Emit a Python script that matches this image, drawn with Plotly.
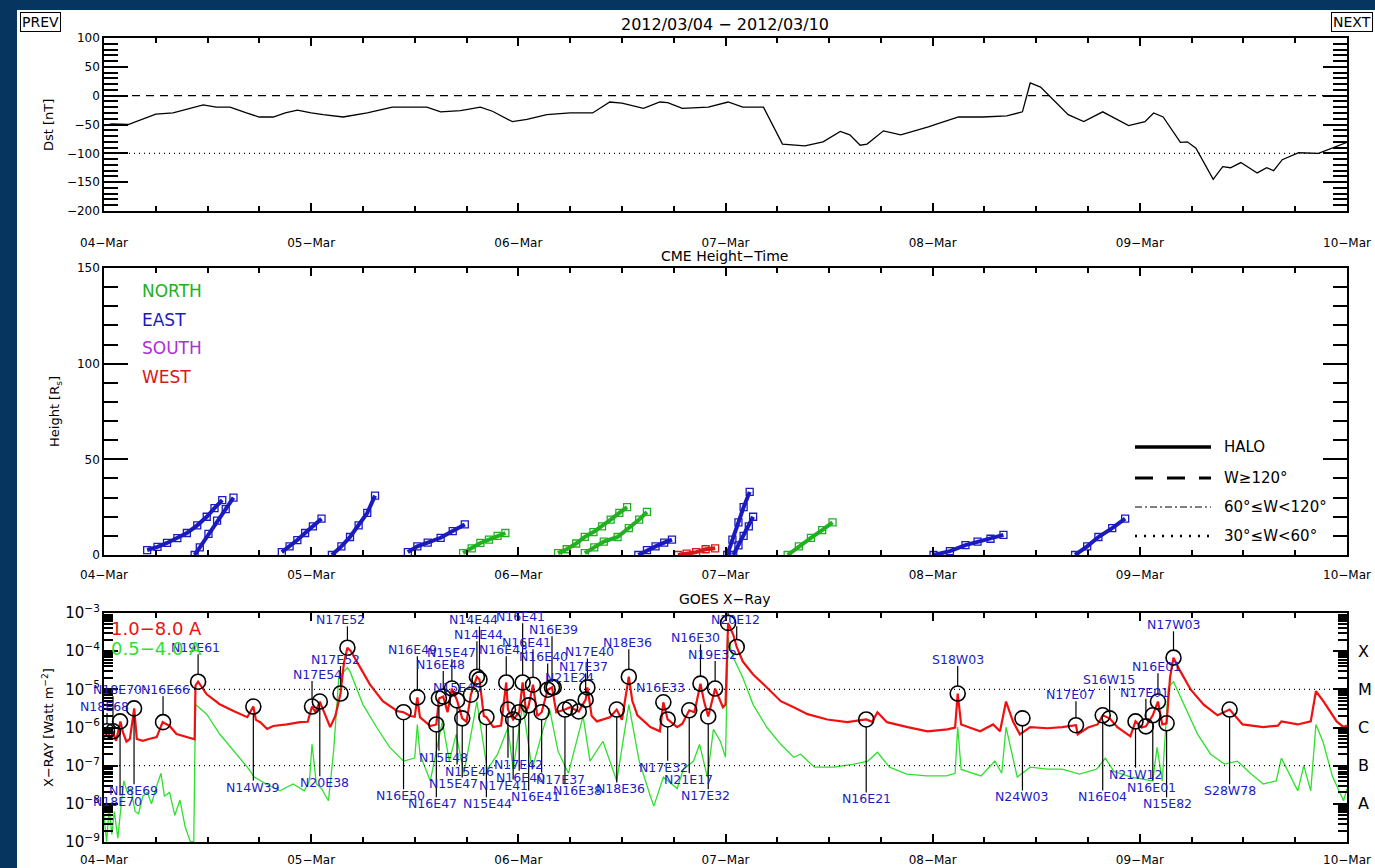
import numpy as np
import pandas as pd
import plotly.graph_objects as go

W, H = 1375, 868
T0 = pd.Timestamp("2012-03-04 00:00")

# ---------------- Dst data (hours from 04-Mar 00UT, nT) ----------------
dst_hours = [0, 0.9, 2.8, 6, 8, 11.5, 13, 14.6, 16.5, 18, 19.6, 21, 22.4, 24, 25.4, 27.7,
             30.5, 33.4, 37.4, 39, 41.3, 43.6, 45, 47.3, 49, 51.3, 54, 56.6, 58.6, 60,
             62.5, 64.4, 65.3, 67, 70, 72.3, 74, 76.4, 78.6, 81.2, 83.3, 85.3, 86.4, 87.6,
             88.4, 90.3, 92.3, 94.0, 95.5, 96.7, 99, 101.8, 104.6, 106.4, 107.3, 108.5,
             111.7, 113.5, 115.7, 118.7, 120.6, 121.6, 122.7, 124.7, 125.5, 126.5, 128.5,
             129.6, 130.5, 131.7, 133.6, 134.7, 135.5, 136.5, 138.4, 140.7, 144]
dst_values = [-52, -49, -50, -32, -30, -16, -20, -20, -30, -37, -37, -30, -25, -30, -33, -37,
              -30, -20, -20, -28, -26, -20, -27, -45, -41, -33, -30, -30, -11, -13,
              -22, -11, -12, -22, -20, -11, -20, -20, -84, -87, -80, -62, -68, -86,
              -84, -61, -68, -61, -54, -48, -37, -37, -35, -28, 22, 15,
              -33, -45, -28, -52, -45, -30, -37, -81, -80, -91, -145,
              -123, -125, -116, -134, -125, -130, -111, -99, -100, -81]

# ---------------- CME height-time tracks ----------------
cme_region = ["EAST", "EAST", "EAST", "EAST", "EAST", "NORTH", "NORTH", "NORTH", "EAST",
              "WEST", "EAST", "EAST", "NORTH", "EAST", "EAST"]
cme_hours = [[5.0, 6.2, 7.3, 8.5, 9.6, 10.8, 11.9, 12.8, 13.7], [10.5, 11.1, 12.1, 13.1, 14.1, 15.0],
             [20.6, 21.5, 22.4, 23.3, 24.2, 25.2],
             [26.4, 27.5, 28.5, 29.5, 30.5, 31.4], [35.2, 36.3, 37.5, 39.0, 40.4, 41.8],
             [41.6, 42.6, 43.6, 44.6, 45.6, 46.5],
             [52.6, 53.6, 54.7, 55.7, 56.7, 57.7, 58.7, 59.7, 60.6],
             [55.7, 56.8, 57.9, 59.5, 60.8, 62.0, 62.9], [61.9, 62.9, 63.9, 64.9, 65.8],
             [66.5, 67.5, 68.6, 69.7, 70.8],
             [72.2, 72.8, 73.5, 74.1, 74.8], [72.9, 73.5, 74.1, 74.7, 75.2],
             [79.2, 80.5, 81.9, 83.2, 84.4], [96.1, 98.0, 99.8, 101.2, 102.7, 104.2],
             [112.5, 113.9, 115.2, 116.8, 118.3]]
cme_heights = [[2.6, 4.2, 6.3, 8.8, 11.5, 15.5, 20, 24.5, 28.7], [0, 4, 11, 18, 24, 30],
               [1.5, 4.5, 7.8, 11.5, 15, 19],
               [0, 4.5, 9.4, 15.5, 22, 31], [1.5, 4.5, 6.5, 9, 12.5, 16],
               [1, 3.5, 6.3, 8, 10, 11.5],
               [1, 3, 6, 9.5, 12, 15, 18.5, 22, 25], [1, 4, 7, 9.4, 14, 18.5, 22.5],
               [0, 2.5, 4.5, 6.5, 8], [0, 0.7, 1.5, 3, 3.5],
               [0, 8, 17, 25, 33], [0, 5, 10, 15, 20],
               [0, 4.5, 8.9, 13, 17], [0, 2, 5.2, 7, 8.5, 10.5],
               [0, 4.5, 9.4, 14, 19]]
region_names = ["NORTH", "EAST", "SOUTH", "WEST"]
region_colors = {"NORTH": "#22b022", "EAST": "#1a1ac0", "SOUTH": "#b02ed8", "WEST": "#d81818"}
width_classes = ["HALO", "W\u2265120\u00b0", "60\u00b0\u2264W<120\u00b0", "30\u00b0\u2264W<60\u00b0"]

# ---------------- GOES X-ray (log10 flux, W m^-2) ----------------
red_hours = [0.0, 0.4, 0.8, 1.0, 1.4, 1.9, 2.2, 2.6, 3.0, 3.5, 3.8, 4.5, 5.2, 6.1, 6.8, 7.6, 8.4,
             9.6, 10.3, 10.5, 10.6, 10.9, 11.9, 13.4, 15.0, 16.6, 17.3, 17.6, 18.1, 18.9, 19.6,
             21.2, 22.7, 23.6, 24.1, 24.5, 25.0, 25.6, 26.2, 26.8, 27.4, 27.8, 28.2, 28.6, 29.7,
             30.8, 32.3, 34.0, 34.7, 35.5, 36.0, 36.3, 36.6, 37.8, 38.5, 38.8, 39.3, 39.8, 40.3,
             40.9, 41.5, 42.0, 42.5, 43.2, 43.5, 44.0, 44.3, 45.1, 46.0, 46.6, 46.8, 47.4, 48.1,
             48.5, 48.9, 49.2, 49.7, 50.2, 50.7, 51.4, 51.9, 52.4, 53.4, 54.0, 55.0, 55.8, 56.0,
             56.5, 57.1, 58.6, 59.4, 60.0, 60.8, 61.2, 61.8, 63.3, 64.4, 64.8, 65.3, 66.4, 67.0,
             67.8, 68.4, 69.1, 69.5, 70.0, 70.8, 71.7, 72.0, 72.3, 72.9, 73.3, 74.0, 75.2, 76.8,
             78.4, 79.9, 81.5, 83.8, 86.1, 88.3, 89.0, 89.6, 90.7, 93.1, 95.4, 97.7, 98.6, 98.9,
             99.3, 101.5, 103.0, 103.8, 104.5, 105.3, 106.1, 107.3, 109.3, 111.0, 112.6, 112.8,
             114.0, 115.1, 115.7, 116.5, 117.4, 118.9, 119.5, 120.2, 120.7, 121.5, 122.1, 122.6,
             123.1, 123.5, 123.9, 124.7, 125.9, 127.4, 129.0, 130.4, 131.9, 134.3, 136.0, 136.4,
             138.3, 139.8, 140.4, 141.3, 142.0, 142.8, 143.6, 144.0]
red_log = [-6.17, -6.10, -6.30, -6.10, -6.35, -5.84, -6.13, -6.37, -6.30, -5.50, -6.30, -6.35, -6.30,
           -6.25, -5.86, -5.96, -6.17, -6.25, -6.30, -6.31, -4.90, -4.80, -5.13, -5.39, -5.57, -5.73,
           -5.45, -5.80, -5.86, -6.04, -5.96, -5.92, -5.86, -5.85, -5.45, -5.60, -5.32, -5.65, -5.99,
           -5.70, -5.11, -4.30, -3.91, -4.00, -4.43, -4.87, -5.31, -5.57, -5.60, -5.70, -5.72, -5.21,
           -5.73, -5.96, -5.92, -5.24, -5.19, -5.60, -4.98, -5.29, -5.76, -5.85, -5.14, -4.67, -4.74,
           -5.70, -5.73, -5.99, -5.95, -4.82, -5.53, -5.79, -5.60, -4.82, -5.60, -5.42, -4.88, -5.70,
           -5.60, -5.01, -4.95, -5.60, -5.53, -5.47, -5.58, -5.27, -4.95, -5.70, -5.84, -5.73, -5.53,
           -5.80, -4.67, -5.30, -5.68, -5.99, -6.10, -5.34, -5.79, -5.99, -5.90, -5.55, -5.60, -4.85,
           -5.30, -5.71, -4.98, -5.47, -5.40, -3.26, -3.57, -3.89, -4.27, -4.61, -4.95, -5.31, -5.47,
           -5.65, -5.79, -5.86, -5.79, -5.85, -5.60, -5.86, -5.99, -6.10, -6.05, -6.00, -5.11, -5.92,
           -6.10, -5.92, -6.10, -5.32, -5.84, -6.18, -5.99, -6.02, -5.99, -5.94, -6.18, -6.00, -5.92,
           -5.68, -5.76, -5.99, -6.23, -5.84, -6.00, -5.97, -5.68, -5.32, -5.92, -5.89, -4.69, -4.17,
           -4.53, -5.01, -5.40, -5.68, -5.53, -5.92, -5.99, -5.95, -5.84, -5.92, -5.84, -5.05, -5.32,
           -5.58, -5.84, -5.99, -5.95]

green_hours = [0.0, 0.3, 0.6, 0.9, 1.2, 1.6, 2.0, 2.3, 2.7, 3.1, 3.6, 4.0, 4.5, 5.0, 5.5, 6.0, 6.6,
               7.0, 7.6, 8.2, 8.8, 9.4, 10.0, 10.4, 10.6, 11.9, 13.4, 15.0, 16.6, 17.4, 18.8, 20.4,
               21.9, 23.2, 23.8, 24.1, 24.6, 25.2, 26.0, 26.6, 27.2, 28.2, 28.5, 30.0, 31.6, 33.1,
               34.7, 36.0, 36.3, 36.6, 37.8, 38.5, 39.2, 40.0, 40.8, 41.7, 43.2, 44.4, 45.6, 46.8,
               47.4, 48.5, 49.6, 50.7, 51.6, 52.6, 53.8, 55.5, 56.3, 57.8, 59.4, 60.8, 62.0, 63.3,
               63.7, 64.8, 66.4, 67.1, 68.3, 69.0, 69.9, 70.6, 71.4, 72.0, 72.3, 72.9, 74.0, 75.2,
               76.8, 78.4, 79.9, 80.7, 82.3, 84.6, 86.9, 88.5, 89.6, 91.0, 93.0, 95.3, 97.6, 98.6,
               98.9, 99.3, 101.6, 103.2, 104.0, 104.5, 105.3, 105.8, 107.3, 109.3, 111.0, 113.0,
               115.0, 116.0, 117.0, 119.0, 121.5, 122.0, 122.6, 123.3, 123.9, 125.1, 126.7, 128.2,
               129.8, 131.3, 132.9, 134.3, 135.8, 136.4, 138.3, 139.0, 139.8, 140.4, 141.2, 142.3,
               143.6, 144.0]
green_log = [-8.3, -9.0, -8.1, -8.8, -8.2, -8.9, -8.0, -7.4, -7.7, -7.6, -8.2, -8.26, -7.8, -7.7,
             -8.0, -7.6, -7.2, -7.8, -7.7, -8.3, -7.9, -8.6, -8.99, -8.99, -5.40, -5.65, -6.17, -6.62,
             -7.04, -7.30, -7.48, -7.66, -7.48, -7.66, -7.4, -6.44, -7.48, -7.60, -7.92, -6.62, -4.69,
             -4.43, -4.53, -5.40, -6.00, -6.52, -6.88, -6.80, -5.92, -6.70, -7.40, -6.62, -5.84, -6.88,
             -6.18, -7.20, -5.32, -7.10, -6.70, -6.00, -7.10, -5.40, -7.10, -6.18, -5.50, -6.62, -7.20,
             -5.70, -6.88, -6.36, -7.40, -5.40, -6.88, -7.80, -8.06, -7.30, -7.60, -7.10, -6.88, -6.44,
             -7.30, -6.05, -6.36, -6.78, -3.65, -4.17, -4.69, -5.40, -6.00, -6.44, -6.78, -6.70, -7.04,
             -7.04, -6.96, -6.88, -6.65, -7.04, -7.22, -7.27, -7.27, -7.20, -5.99, -7.10, -7.27, -6.88,
             -7.20, -5.99, -6.80, -7.30, -7.04, -7.09, -7.09, -7.22, -7.09, -6.80, -7.15, -7.30, -7.40,
             -6.52, -7.40, -4.95, -4.80, -5.40, -6.18, -6.70, -6.96, -6.88, -7.22, -7.48, -7.40, -6.80,
             -7.66, -7.00, -7.66, -5.92, -6.36, -7.27, -7.92, -7.60]

# flares: peak time (h), peak log flux, location label, label time (h), label log flux
fl_hours = [0.35, 1.04, 1.86, 3.48, 6.84, 10.9, 17.3, 24.1, 25.0, 27.4, 28.2,
            34.7, 36.3, 38.5, 38.8, 39.3, 40.3, 40.9, 41.5, 42.5, 43.2, 43.5, 44.3,
            46.6, 46.8, 47.4, 48.1, 48.5, 49.2, 49.7, 50.7, 51.4, 51.9, 52.1, 53.4,
            54.0, 55.0, 55.8, 56.0, 59.4, 60.8, 64.8, 65.3, 67.8, 69.1, 70.0, 70.8,
            72.3, 73.3, 88.3, 98.9, 106.4, 112.6, 115.7, 116.5, 119.5, 120.7, 121.5,
            122.1, 123.1, 123.9, 130.4]
fl_log = [-6.10, -6.10, -5.84, -5.50, -5.86, -4.80, -5.45, -5.45, -5.32, -5.11, -3.91,
          -5.60, -5.21, -5.92, -5.24, -5.19, -4.98, -5.29, -5.76, -5.14, -4.67, -4.74, -5.73,
          -4.82, -5.53, -5.79, -5.60, -4.82, -5.42, -4.88, -5.60, -5.01, -4.95, -4.95, -5.53,
          -5.47, -5.58, -5.27, -4.95, -5.53, -4.67, -5.34, -5.79, -5.55, -4.85, -5.71, -4.98,
          -3.26, -3.89, -5.79, -5.11, -5.76, -5.94, -5.68, -5.76, -5.84, -5.97, -5.68,
          -5.32, -5.89, -4.17, -5.53]
fl_text = ["N18E68", "N18E70", "N18E70", "N18E69", "N16E66", "N19E61", "N14W39", "N17E54",
           "N20E38", "N17E52", "N17E52",
           "N16E50", "N16E49", "N16E47", "N15E48", "N16E48", "N15E47", "N15E46", "N15E47",
           "N15E45", "N14E44", "N14E44", "N15E44",
           "N16E43", "N17E42", "N17E41", "N16E40", "N16E41", "N16E41", "N16E41", "N17E37",
           "N16E40", "N16E39", "N21E24", "N16E38",
           "", "", "N17E37", "N17E40", "N18E36", "N18E36", "N16E33", "N17E32", "N21E17",
           "N16E30", "N17E32", "N19E32",
           "N17E27", "N20E12", "N16E21", "S18W03", "N24W03", "N17E07", "N16E04", "S16W15",
           "N21W12", "N17E01", "N16E01", "N16E01", "N15E82", "N17W03", "S28W78"]
lab_hours = [0.1, 1.6, 1.6, 3.4, 7.1, 10.6, 17.3, 24.7, 25.6, 26.8, 27.4,
             34.3, 35.7, 38.1, 39.3, 39.0, 40.3, 42.4, 40.5, 40.9, 43.4, 42.8, 44.4,
             46.3, 48.0, 46.3, 48.2, 48.2, 50.0, 49.0, 52.9, 50.9, 52.1, 53.9, 54.8,
             54.0, 55.0, 55.5, 56.3, 59.8, 60.6, 64.5, 64.8, 67.7, 68.5, 69.7, 70.5,
             72.2, 73.2, 88.3, 98.9, 106.4, 112.0, 115.7, 116.4, 119.5, 120.5, 121.3,
             121.9, 123.2, 123.9, 130.4]
lab_log = [-5.45, -5.01, -7.95, -7.66, -5.01, -3.91, -7.56, -4.61, -7.45, -4.22, -3.18,
           -7.79, -3.96, -8.00, -6.78, -4.35, -4.04, -7.14, -7.48, -4.95, -3.57, -3.18, -8.00,
           -3.96, -6.96, -7.53, -7.30, -3.10, -7.82, -3.78, -7.35, -4.15, -3.44, -4.69, -7.66,
           -5.47, -5.58, -4.41, -4.02, -7.61, -3.78, -4.95, -7.04, -7.37, -3.65, -7.79, -4.09,
           -2.74, -3.18, -7.87, -4.22, -7.82, -5.14, -7.82, -4.74, -7.22, -5.08, -7.56,
           -4.41, -8.00, -3.31, -7.66]

class_letters = ["X", "M", "C", "B", "A"]
class_log = [-4, -5, -6, -7, -8]

# ---------------- helpers ----------------
def T(hours):
    return [T0 + pd.Timedelta(hours=float(h)) for h in hours]

def px_x(p):
    return p / W

def px_y(p):
    return 1 - p / H

XD = [px_x(104), px_x(1347)]
Y1 = [px_y(211), px_y(38)]
Y2 = [px_y(555), px_y(268)]
Y3 = [px_y(842), px_y(613)]
XR = [T0, T0 + pd.Timedelta(days=6)]
FONT = "DejaVu Sans"
BLUE = "#1c1cc4"
NAVY = "#063660"

fig = go.Figure()

# Dst
fig.add_trace(go.Scatter(x=T(dst_hours), y=dst_values, mode="lines",
                         line=dict(color="black", width=1.3), xaxis="x", yaxis="y",
                         showlegend=False, hoverinfo="skip"))
fig.add_trace(go.Scatter(x=XR, y=[0, 0], mode="lines", line=dict(color="black", width=1.3, dash="8px,6px"),
                         xaxis="x", yaxis="y", showlegend=False, hoverinfo="skip"))
fig.add_trace(go.Scatter(x=XR, y=[-100, -100], mode="lines", line=dict(color="black", width=1.2, dash="1px,4px"),
                         xaxis="x", yaxis="y", showlegend=False, hoverinfo="skip"))

# CME tracks
for reg, hh, ht in zip(cme_region, cme_hours, cme_heights):
    c = region_colors[reg]
    fig.add_trace(go.Scatter(x=T(hh), y=ht, mode="lines+markers",
                             line=dict(color=c, width=4),
                             marker=dict(symbol="square-open", size=7, color=c, line=dict(width=1.3)),
                             xaxis="x2", yaxis="y2", showlegend=False, hoverinfo="skip"))

# GOES curves
fig.add_trace(go.Scatter(x=T(green_hours), y=10 ** np.array(green_log), mode="lines",
                         line=dict(color="#2fe02f", width=1.3), xaxis="x3", yaxis="y3",
                         showlegend=False, hoverinfo="skip"))
fig.add_trace(go.Scatter(x=T(red_hours), y=10 ** np.array(red_log), mode="lines",
                         line=dict(color="#f01010", width=2.2), xaxis="x3", yaxis="y3",
                         showlegend=False, hoverinfo="skip"))
for lv in [-5, -7]:
    fig.add_trace(go.Scatter(x=XR, y=[10 ** lv, 10 ** lv], mode="lines",
                             line=dict(color="black", width=1.2, dash="1px,4px"),
                             xaxis="x3", yaxis="y3", showlegend=False, hoverinfo="skip"))

# flare sticks
R = 0.19   # circle radius in decades
HALF = 0.17  # half label height in decades
sx, sy = [], []
for h, lg, txt, lh, ll in zip(fl_hours, fl_log, fl_text, lab_hours, lab_log):
    if not txt:
        continue
    if ll > lg:
        a, b = lg + R, ll - HALF
        if b <= a:
            continue
    else:
        a, b = lg - R, ll + HALF
        if b >= a:
            continue
    t = T0 + pd.Timedelta(hours=h)
    sx += [t, t, None]
    sy += [10 ** a, 10 ** b, None]
fig.add_trace(go.Scatter(x=sx, y=sy, mode="lines", line=dict(color="black", width=1.2),
                         xaxis="x3", yaxis="y3", showlegend=False, hoverinfo="skip"))
fig.add_trace(go.Scatter(x=T(fl_hours), y=10 ** np.array(fl_log), mode="markers",
                         marker=dict(symbol="circle-open", size=15, color="black", line=dict(width=1.6)),
                         xaxis="x3", yaxis="y3", showlegend=False, hoverinfo="skip"))

ann = []
for h, lg, txt, lh, ll in zip(fl_hours, fl_log, fl_text, lab_hours, lab_log):
    if not txt:
        continue
    ann.append(dict(x=T0 + pd.Timedelta(hours=lh), y=ll, xref="x3", yref="y3", text=txt,
                    showarrow=False, font=dict(family=FONT, size=12.5, color=BLUE),
                    xanchor="center", yanchor="middle"))

# navy frame strips (left and top), page is white inside
shapes = [
    dict(type="rect", xref="paper", yref="paper", x0=-0.01, x1=px_x(17), y0=-0.01, y1=1.01,
         fillcolor=NAVY, line=dict(width=0), layer="below"),
    dict(type="rect", xref="paper", yref="paper", x0=-0.01, x1=1.01, y0=px_y(10), y1=1.01,
         fillcolor=NAVY, line=dict(width=0), layer="below"),
]

# CME width legend (right)
dashes = ["solid", "18px,14px", "7px,3px,2px,3px", "2px,7px"]
widths = [3.5, 3, 1, 2.5]
leg_y = [447, 478, 507, 536]
for lab, dsh, wdt, yy in zip(width_classes, dashes, widths, leg_y):
    shapes.append(dict(type="line", xref="paper", yref="paper", x0=px_x(1135), x1=px_x(1211),
                       y0=px_y(yy), y1=px_y(yy), line=dict(color="black", width=wdt, dash=dsh)))
    ann.append(dict(x=px_x(1222), y=px_y(yy), xref="paper", yref="paper", text=lab, showarrow=False,
                    xanchor="left", yanchor="middle", font=dict(family=FONT, size=15, color="black")))

# CME region legend (left)
for i, nm in enumerate(region_names):
    ann.append(dict(x=px_x(140), y=px_y(291 + 28.5 * i), xref="paper", yref="paper", text=nm,
                    showarrow=False, xanchor="left", yanchor="middle",
                    font=dict(family=FONT, size=17, color=region_colors[nm])))

# GOES band legend
ann.append(dict(x=px_x(109), y=px_y(628), xref="paper", yref="paper", text="1.0\u22128.0 A",
                showarrow=False, xanchor="left", yanchor="middle",
                font=dict(family=FONT, size=18, color="#f01010")))
ann.append(dict(x=px_x(109), y=px_y(648), xref="paper", yref="paper", text="0.5\u22124.0 A",
                showarrow=False, xanchor="left", yanchor="middle",
                font=dict(family=FONT, size=18, color="#2fe02f")))

# class letters on right of GOES panel
for L, lv in zip(class_letters, class_log):
    ann.append(dict(x=px_x(1356), y=lv, xref="paper", yref="y3", text=L, showarrow=False,
                    xanchor="left", yanchor="middle", font=dict(family=FONT, size=16, color="black")))

# titles & labels
ann += [
    dict(x=px_x(725), y=px_y(25), xref="paper", yref="paper", text="2012/03/04 \u2212 2012/03/10",
         showarrow=False, xanchor="center", yanchor="middle",
         font=dict(family=FONT, size=16, color="black")),
    dict(x=px_x(725), y=px_y(256), xref="paper", yref="paper", text="CME Height\u2212Time",
         showarrow=False, xanchor="center", yanchor="middle",
         font=dict(family=FONT, size=14, color="black")),
    dict(x=px_x(725), y=px_y(599), xref="paper", yref="paper", text="GOES X\u2212Ray",
         showarrow=False, xanchor="center", yanchor="middle",
         font=dict(family=FONT, size=14, color="black")),
    dict(x=px_x(20), y=px_y(22), xref="paper", yref="paper", text="PREV", showarrow=False,
         xanchor="left", yanchor="middle", bordercolor="black", borderwidth=1, borderpad=1,
         font=dict(family=FONT, size=14, color="black")),
    dict(x=px_x(1373), y=px_y(22), xref="paper", yref="paper", text="NEXT", showarrow=False,
         xanchor="right", yanchor="middle", bordercolor="black", borderwidth=1, borderpad=1,
         font=dict(family=FONT, size=14, color="black")),
    dict(x=px_x(48), y=px_y(125), xref="paper", yref="paper", text="Dst [nT]", showarrow=False,
         xanchor="center", yanchor="middle", textangle=-90,
         font=dict(family=FONT, size=13, color="black")),
    dict(x=px_x(55), y=px_y(412), xref="paper", yref="paper", text="Height [R<sub>s</sub>]",
         showarrow=False, xanchor="center", yanchor="middle", textangle=-90,
         font=dict(family=FONT, size=13, color="black")),
    dict(x=px_x(48), y=px_y(728), xref="paper", yref="paper",
         text="X\u2212RAY [Watt m<sup>\u22122</sup>]", showarrow=False, xanchor="center",
         yanchor="middle", textangle=-90, font=dict(family=FONT, size=13, color="black")),
]

xbase = dict(type="date", range=XR, domain=XD, showline=True, linecolor="black", linewidth=1.5,
             mirror="allticks", ticks="inside", ticklen=8, tickwidth=1.5, tickcolor="black",
             dtick=86400000, tick0=T0, tickformat="%d\u2212%b", showgrid=False, zeroline=False,
             automargin=False, layer="above traces",
             tickfont=dict(family=FONT, size=12, color="black"),
             minor=dict(dtick=6 * 3600 * 1000, ticks="inside", ticklen=5, tickcolor="black",
                        tickwidth=1.5, showgrid=False))
ybase = dict(showline=True, linecolor="black", linewidth=1.5, mirror="allticks", ticks="inside",
             tickcolor="black", tickwidth=1.5, showgrid=False, zeroline=False, automargin=False,
             layer="above traces",
             tickfont=dict(family=FONT, size=12, color="black"))

fig.update_layout(
    template="none",
    width=W, height=H, margin=dict(l=0, r=0, t=0, b=0, pad=0, autoexpand=False),
    paper_bgcolor="white", plot_bgcolor="white", showlegend=False,
    xaxis=dict(xbase, anchor="y", ticklabelstandoff=20),
    xaxis2=dict(xbase, anchor="y2", ticklabelstandoff=8),
    xaxis3=dict(xbase, anchor="y3", ticklabelstandoff=6),
    yaxis=dict(ybase, domain=Y1, anchor="x", range=[-200, 100], dtick=50, ticklen=24,
               minor=dict(dtick=10, ticks="inside", ticklen=14, tickcolor="black", tickwidth=1.5,
                          showgrid=False)),
    yaxis2=dict(ybase, domain=Y2, anchor="x2", range=[0, 150], dtick=50, ticklen=24,
                minor=dict(dtick=10, ticks="inside", ticklen=14, tickcolor="black", tickwidth=1.5,
                           showgrid=False)),
    yaxis3=dict(ybase, domain=Y3, anchor="x3", type="log", range=[-9, -3], dtick=1, ticklen=14,
                exponentformat="power",
                minor=dict(dtick="D1", ticks="inside", ticklen=9, tickcolor="black", tickwidth=1.5,
                           showgrid=False)),
    shapes=shapes, annotations=ann,
)

fig.write_html("out.html")
